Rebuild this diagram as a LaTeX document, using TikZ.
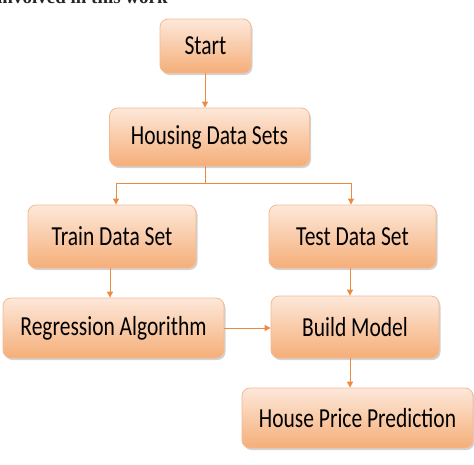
\documentclass[tikz,border=0pt]{standalone}
\usepackage{fontspec}
\setmainfont{Carlito}
\newfontfamily\serifcap{Liberation Serif}
\usetikzlibrary{shadows,arrows.meta}
\definecolor{boxlight}{HTML}{FDE8DA}
\definecolor{boxdark}{HTML}{F5AE78}
\definecolor{boxedge}{HTML}{F3BA92}
\definecolor{arrowc}{HTML}{EE8A40}
\newcommand{\boxtxt}[1]{\scalebox{1}[1.28]{#1}}
\tikzset{
  flowbox/.style={rectangle, rounded corners=8pt, draw=boxedge, line width=0.8pt,
    left color=boxlight, right color=boxdark, shading angle=0,
    drop shadow={shadow xshift=1.5pt, shadow yshift=-2pt, fill=gray, opacity=0.35},
    font=\fontsize{21.5}{24}\selectfont, text=black, inner sep=0pt},
  flowarrow/.style={draw=arrowc, line width=1pt, -{Triangle[length=6pt,width=6pt]}},
  flowline/.style={draw=arrowc, line width=1pt}
}
\begin{document}
\begin{tikzpicture}[x=1pt,y=-1pt]
\useasboundingbox (0,0) rectangle (474,464);
\begin{scope}
\clip (0,0) rectangle (474,464);
\node[anchor=base west, inner sep=0pt, font=\serifcap\bfseries\fontsize{19}{22}\selectfont, text=black!85] (caption) at (-3,3) {involved in this work};
\end{scope}
\node[flowbox, minimum width=91pt, minimum height=54pt] (start) at (205.5,46) {\boxtxt{Start}};
\node[flowbox, minimum width=200pt, minimum height=58pt] (housing) at (209.5,137) {\boxtxt{Housing Data Sets}};
\node[flowbox, minimum width=168pt, minimum height=63pt] (train) at (112,236.5) {\boxtxt{Train Data Set}};
\node[flowbox, minimum width=167pt, minimum height=63pt] (test) at (352.5,236.5) {\boxtxt{Test Data Set}};
\node[flowbox, minimum width=221pt, minimum height=60pt] (regr) at (113.5,328) {\boxtxt{Regression Algorithm}};
\node[flowbox, minimum width=168pt, minimum height=62pt] (build) at (355,327) {\boxtxt{Build Model}};
\node[flowbox, minimum width=231pt, minimum height=60pt] (house) at (357.5,418) {\boxtxt{House Price Prediction}};
\coordinate (split) at (205,183);
\coordinate (splitl) at (116,183);
\coordinate (splitr) at (351,183);
\draw[flowarrow] (start.south -| 205,0) -- (housing.north -| 205,0);
\draw[flowline] (housing.south -| split) -- (split);
\draw[flowline] (splitl) -- (splitr);
\draw[flowarrow] (splitl) -- (splitl |- train.north);
\draw[flowarrow] (splitr) -- (splitr |- test.north);
\draw[flowarrow] (train.south -| 110,0) -- (regr.north -| 110,0);
\draw[flowarrow] (test.south -| 350,0) -- (build.north -| 350,0);
\draw[flowarrow] (regr.east) -- (build.west |- regr.east);
\draw[flowarrow] (build.south -| 350,0) -- (house.north -| 350,0);
\end{tikzpicture}
\end{document}
